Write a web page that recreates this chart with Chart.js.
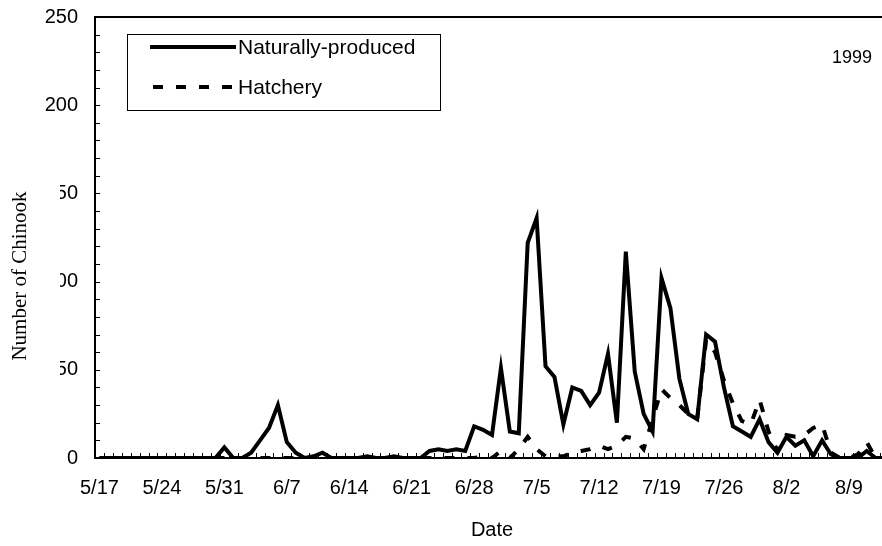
<!DOCTYPE html>
<html><head><meta charset="utf-8">
<script src="https://cdn.jsdelivr.net/npm/chart.js@4.4.1/dist/chart.umd.min.js"></script>
<style>
html,body{margin:0;padding:0;overflow:hidden;background:#fff;}
canvas{display:block;}
</style></head><body>
<canvas id="c" width="890" height="546"></canvas>
<script>
// ---- data ----
const dates = ['5/17','5/18','5/19','5/20','5/21','5/22','5/23','5/24','5/25','5/26','5/27','5/28','5/29','5/30','5/31',
'6/1','6/2','6/3','6/4','6/5','6/6','6/7','6/8','6/9','6/10','6/11','6/12','6/13','6/14','6/15','6/16','6/17','6/18','6/19','6/20','6/21','6/22','6/23','6/24','6/25','6/26','6/27','6/28','6/29','6/30',
'7/1','7/2','7/3','7/4','7/5','7/6','7/7','7/8','7/9','7/10','7/11','7/12','7/13','7/14','7/15','7/16','7/17','7/18','7/19','7/20','7/21','7/22','7/23','7/24','7/25','7/26','7/27','7/28','7/29','7/30','7/31',
'8/1','8/2','8/3','8/4','8/5','8/6','8/7','8/8','8/9','8/10','8/11','8/12','8/13'];
const tickLabels = ['5/17','5/24','5/31','6/7','6/14','6/21','6/28','7/5','7/12','7/19','7/26','8/2','8/9'];
const naturallyProduced = [0,0,0,0,0,0,0,0,0,0,0,0,0,0,
 6,0,0,3,10,17,30,
 9,3,0,1,3,0,0,
 0,0,1,0,0,1,0,
 0,0,4,5,4,5,4,
 18,16,13,51,15,14,122,
 136,52,46,19,40,38,30,
 37,59,20,117,49,25,15,
 102,85,45,25,22,70,66,
 40,18,15,12,22,9,3,
 12,7,10,1,10,2,0,
 0,0,4,0,0];
const hatchery = [0,0,0,0,0,0,0,0,0,0,0,0,0,0,
 0,0,0,0,0,0,0,
 0,0,0,0,0,0,0,
 0,0,0,0,0,0,0,
 0,0,0,0,0,0,0,
 0,1,0,4,0,5,12,
 5,1,1,1,3,4,5,
 7,5,7,12,11,5,22,
 39,34,30,25,22,67,60,
 44,31,21,19,33,15,4,
 13,12,13,17,19,3,0,
 0,2,9,0,0];
const yTicks = {min:0, max:250, step:50, minor:10};
const yearLabel = '1999';
const yTitle = 'Number of Chinook';
const xTitle = 'Date';

const SANS = '"Liberation Sans", Arial, sans-serif';
const SERIF = '"Liberation Serif", "Times New Roman", serif';

const decor = {
  id: 'decor',
  beforeDatasetsDraw(chart) {
    const {ctx, chartArea: a, scales: {x, y}} = chart;
    ctx.save();
    ctx.strokeStyle = '#000';
    ctx.lineWidth = 1;
    for (let v = yTicks.minor; v < yTicks.max; v += yTicks.minor) {
      const py = Math.round(y.getPixelForValue(v)) + 0.5;
      ctx.beginPath(); ctx.moveTo(a.left, py); ctx.lineTo(a.left + 5, py); ctx.stroke();
    }
    const half = (x.getPixelForValue(1) - x.getPixelForValue(0)) / 2;
    for (let i = 0; i <= dates.length; i++) {
      const px = Math.round(x.getPixelForValue(i) - half) + 0.5;
      ctx.beginPath(); ctx.moveTo(px, a.bottom); ctx.lineTo(px, a.bottom - 5); ctx.stroke();
    }
    ctx.lineWidth = 2;
    ctx.beginPath(); ctx.moveTo(a.left, a.top); ctx.lineTo(a.right, a.top); ctx.lineTo(a.right, a.bottom); ctx.stroke();
    ctx.restore();
  },
  afterDraw(chart) {
    const {ctx} = chart;
    ctx.save();
    ctx.fillStyle = '#fff';
    ctx.fillRect(0, 140, 60, 255);
    ctx.translate(20, 276);
    ctx.rotate(-Math.PI / 2);
    ctx.fillStyle = '#000';
    ctx.font = '21px ' + SERIF;
    ctx.textAlign = 'center';
    ctx.textBaseline = 'middle';
    ctx.fillText(yTitle, 0, 0);
    ctx.restore();

    ctx.save();
    ctx.fillStyle = '#fff';
    ctx.fillRect(127, 34, 313, 76);
    ctx.strokeStyle = '#000';
    ctx.lineWidth = 1;
    ctx.strokeRect(127.5, 34.5, 313, 76);
    const rows = [47, 87];
    chart.data.datasets.forEach((ds, i) => {
      const yy = rows[i];
      ctx.beginPath();
      ctx.lineWidth = ds.borderWidth;
      ctx.setLineDash(ds.borderDash || []);
      ctx.lineDashOffset = ds.borderDash ? -3 : 0;
      ctx.moveTo(150, yy); ctx.lineTo(236, yy);
      ctx.stroke();
      ctx.setLineDash([]);
      ctx.fillStyle = '#000';
      ctx.font = '21px ' + SANS;
      ctx.textAlign = 'left';
      ctx.textBaseline = 'middle';
      ctx.fillText(ds.label, 238, yy + 1);
    });
    ctx.font = '18px ' + SANS;
    ctx.textAlign = 'right';
    ctx.textBaseline = 'middle';
    ctx.fillText(yearLabel, 872, 58);
    ctx.restore();
  }
};

new Chart(document.getElementById('c'), {
  type: 'line',
  data: {
    labels: dates,
    datasets: [
      {label: 'Naturally-produced', data: naturallyProduced, borderColor: '#000', borderWidth: 4,
       pointRadius: 0, tension: 0, borderJoinStyle: 'miter', fill: false},
      {label: 'Hatchery', data: hatchery, borderColor: '#000', borderWidth: 4, borderDash: [10, 13],
       borderCapStyle: 'butt', pointRadius: 0, tension: 0, borderJoinStyle: 'miter', fill: false}
    ]
  },
  options: {
    responsive: false,
    devicePixelRatio: 1,
    animation: false,
    layout: {padding: {top: 17, right: 1, bottom: 0, left: 0}},
    plugins: {legend: {display: false}, tooltip: {enabled: false}},
    scales: {
      x: {
        type: 'category',
        offset: true,
        grid: {display: false, drawTicks: false, offset: true},
        border: {display: true, color: '#000', width: 2},
        ticks: {
          autoSkip: false, maxRotation: 0, minRotation: 0, padding: 18, color: '#000',
          font: {family: SANS, size: 20},
          callback: function(val, idx) { return tickLabels.includes(dates[idx]) ? dates[idx] : ''; }
        },
        title: {display: true, text: xTitle, color: '#000', font: {family: SANS, size: 20}, padding: {top: 0, bottom: 4}},
        afterFit(s) { s.height = 88; s.paddingLeft = 0; s.paddingRight = 0; }
      },
      y: {
        min: yTicks.min, max: yTicks.max,
        grid: {display: false, drawTicks: false},
        border: {display: true, color: '#000', width: 2},
        ticks: {stepSize: yTicks.step, padding: 17, color: '#000', font: {family: SANS, size: 20}},
        afterFit(s) { s.width = 95; s.paddingTop = 0; s.paddingBottom = 0; }
      }
    }
  },
  plugins: [decor]
});
</script>
</body></html>
